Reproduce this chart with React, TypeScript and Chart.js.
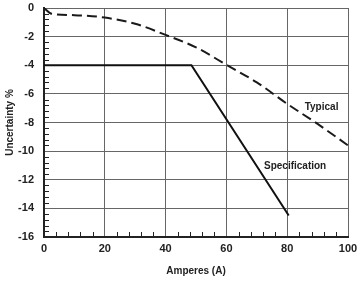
import { useEffect, useRef } from "react";
import { Chart, registerables } from "chart.js";
Chart.register(...registerables);

const typicalX = [0, 2.5, 10, 20, 30, 40, 50, 60, 70, 80, 90, 100];
const typicalY = [0, -0.4, -0.5, -0.67, -1.1, -1.88, -2.75, -3.97, -5.2, -6.7, -8.1, -9.6];
const specX = [0, 48.5, 80.5];
const specY = [-4, -4, -14.5];
const seriesNames = ["Typical", "Specification"];
const labelPos = [
  { x: 91.3, y: -6.9 },
  { x: 82.6, y: -11.05 },
];
const xTitle = "Amperes (A)";
const yTitle = "Uncertainty %";

const FONT = "'Liberation Sans', Arial, sans-serif";

const decorPlugin = {
  id: "decor",
  afterDatasetsDraw(chart: any) {
    const { ctx, scales, chartArea } = chart;
    const xs = scales.x;
    const ys = scales.y;
    ctx.save();
    ctx.strokeStyle = "#222";
    ctx.lineWidth = 1;
    for (let v = 0; v <= 100; v += 4) {
      if (v % 20 === 0) continue;
      const px = Math.round(xs.getPixelForValue(v)) + 0.5;
      ctx.beginPath();
      ctx.moveTo(px, chartArea.bottom);
      ctx.lineTo(px, chartArea.bottom - 5);
      ctx.stroke();
    }
    for (let i = 0; i <= 40; i++) {
      if (i % 5 === 0) continue;
      const v = -i * 0.4;
      const py = Math.round(ys.getPixelForValue(v)) + 0.5;
      ctx.beginPath();
      ctx.moveTo(chartArea.left, py);
      ctx.lineTo(chartArea.left + 5, py);
      ctx.stroke();
    }
    ctx.fillStyle = "#222";
    ctx.font = `bold 10px ${FONT}`;
    ctx.textAlign = "center";
    ctx.textBaseline = "middle";
    seriesNames.forEach((n, i) => {
      ctx.fillText(n, xs.getPixelForValue(labelPos[i].x), ys.getPixelForValue(labelPos[i].y));
    });
    ctx.restore();
  },
};

export default function App() {
  const ref = useRef<HTMLCanvasElement>(null);
  useEffect(() => {
    if (!ref.current) return;
    const chart = new Chart(ref.current, {
      type: "line",
      data: {
        datasets: [
          {
            label: seriesNames[0],
            data: typicalX.map((x, i) => ({ x, y: typicalY[i] })),
            borderColor: "#1a1a1a",
            borderWidth: 2,
            borderDash: [10, 5],
            pointRadius: 0,
            cubicInterpolationMode: "monotone",
            fill: false,
          },
          {
            label: seriesNames[1],
            data: specX.map((x, i) => ({ x, y: specY[i] })),
            borderColor: "#111",
            borderWidth: 2,
            pointRadius: 0,
            tension: 0,
            fill: false,
          },
        ],
      },
      options: {
        responsive: false,
        animation: false,
        layout: { padding: { left: 0, right: 12, top: 8, bottom: 0 } },
        plugins: { legend: { display: false }, tooltip: { enabled: false } },
        scales: {
          x: {
            type: "linear",
            min: 0,
            max: 100,
            ticks: {
              stepSize: 20,
              color: "#222",
              padding: 5,
              maxRotation: 0,
              font: { family: FONT, size: 11, weight: "bold" },
            },
            grid: { color: "#666", lineWidth: 1, drawTicks: false },
            border: { color: "#222", width: 2 },
            title: {
              display: true,
              text: xTitle,
              color: "#222",
              font: { family: FONT, size: 10, weight: "bold" },
              padding: { top: 4, bottom: 4 },
            },
            afterFit(s: any) {
              s.height = 44;
              s.paddingLeft = 0;
              s.paddingRight = 0;
            },
          },
          y: {
            type: "linear",
            min: -16,
            max: 0,
            ticks: {
              stepSize: 2,
              color: "#222",
              padding: 10,
              font: { family: FONT, size: 11, weight: "bold" },
            },
            grid: { color: "#666", lineWidth: 1, drawTicks: false },
            border: { color: "#222", width: 2 },
            title: {
              display: true,
              text: yTitle,
              color: "#222",
              font: { family: FONT, size: 10, weight: "bold" },
              padding: { top: 4, bottom: 4 },
            },
            afterFit(s: any) {
              s.width = 44;
              s.paddingTop = 0;
              s.paddingBottom = 0;
            },
          },
        },
      },
      plugins: [decorPlugin],
    } as any);
    return () => chart.destroy();
  }, []);
  return (
    <div style={{ position: "absolute", left: 0, top: 0, width: 360, height: 281, background: "#fff" }}>
      <canvas ref={ref} width={360} height={281} />
    </div>
  );
}
